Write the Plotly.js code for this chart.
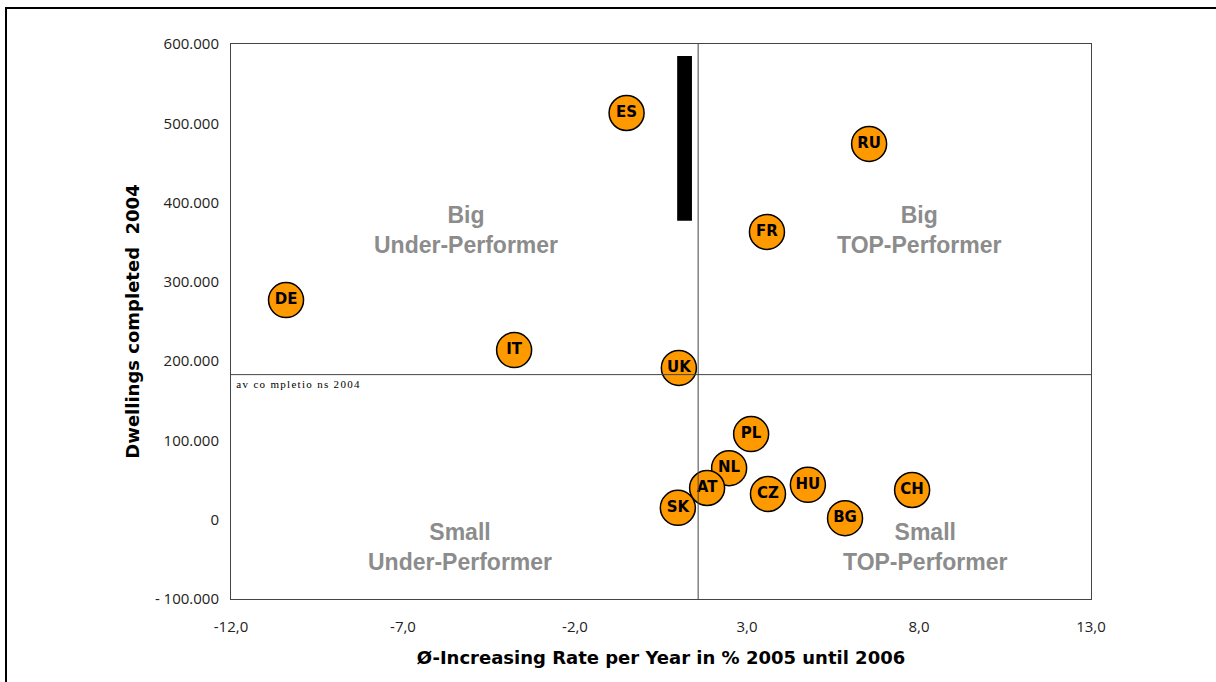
<!DOCTYPE html>
<html>
<head>
<meta charset="utf-8">
<script src="https://cdn.plot.ly/plotly-3.0.1.min.js"></script>
<style>
html,body{margin:0;padding:0;background:#fff;}
#frame{position:absolute;left:5px;top:7px;width:1211px;height:675px;border-left:2px solid #000;border-top:2px solid #000;box-sizing:border-box;}
#chart{position:absolute;left:0;top:0;width:1216px;height:682px;}
g.annotation[data-index="4"] text.annotation-text{letter-spacing:1.3px;}
</style>
</head>
<body>
<div id="frame"></div>
<div id="chart"></div>
<script>
// Data
const countries = ["ES","RU","FR","DE","IT","UK","PL","NL","AT","SK","CZ","HU","BG","CH"];
const growthRate = [-0.5, 6.55, 3.58, -10.4, -3.77, 1.02, 3.12, 2.48, 1.84, 0.99, 3.61, 4.77, 5.85, 7.8];
const completions = [513000, 474000, 363000, 277000, 214000, 191500, 108000, 65000, 40000, 15000, 32500, 44000, 2000, 37500];

const avgGrowth = 1.58;          // vertical divider
const avgCompletions = 183000;   // horizontal divider "av completions 2004"
const barX = [0.97, 1.40];
const barY = [377000, 585000];

const xTicks = [-12, -7, -2, 3, 8, 13];
const xTickLabels = ["-12,0", "-7,0", "-2,0", "3,0", "8,0", "13,0"];
const yTicks = [-100000, 0, 100000, 200000, 300000, 400000, 500000, 600000];
const yTickLabels = ["- 100.000", "0", "100.000", "200.000", "300.000", "400.000", "500.000", "600.000"];
const xRange = [-12, 13];
const yRange = [-100000, 600000];

const quadrantText = ["Big<br>Under-Performer", "Big<br>TOP-Performer", "Small<br>Under-Performer", "Small<br>TOP-Performer"];
const quadrantX = [-5.17, 8.0, -5.34, 8.2];
const quadrantY = [365000, 365000, -35000, -35000];

const trace = {
  type: "scatter",
  mode: "markers+text",
  x: growthRate,
  y: completions,
  text: countries,
  textposition: "middle center",
  textfont: {family: "DejaVu Sans", size: 15, color: "#000", weight: "bold"},
  marker: {size: 35, color: "#FF9900", line: {color: "#000", width: 1.5}},
  hoverinfo: "skip",
  cliponaxis: false
};

const annotations = quadrantText.map((t, i) => ({
  x: quadrantX[i], y: quadrantY[i], xref: "x", yref: "y", text: t, showarrow: false,
  font: {family: "Liberation Sans", size: 23, color: "#8c8c8c", weight: "bold"},
  align: "center", yanchor: "middle"
}));
annotations.push({
  x: xRange[0], y: avgCompletions, xref: "x", yref: "y", xanchor: "left", yanchor: "top",
  xshift: 17, yshift: -1,
  text: "av co mpletio ns 2004", showarrow: false,
  font: {family: "Liberation Serif", size: 11, color: "#000"}
});

const layout = {
  width: 1216, height: 682,
  margin: {l: 231, r: 125, t: 44, b: 83},
  paper_bgcolor: "rgba(0,0,0,0)",
  plot_bgcolor: "#fff",
  showlegend: false,
  xaxis: {
    range: xRange, tickvals: xTicks, ticktext: xTickLabels,
    showgrid: false, zeroline: false,
    showline: true, mirror: true, linecolor: "#444", linewidth: 1,
    ticks: "", ticklabelstandoff: 14,
    tickfont: {family: "Open Sans", size: 15, color: "#222"},
    title: {text: "Ø-Increasing Rate per Year in % 2005 until 2006", standoff: 16,
            font: {family: "DejaVu Sans", size: 18, color: "#000", weight: "bold"}}
  },
  yaxis: {
    range: yRange, tickvals: yTicks, ticktext: yTickLabels,
    showgrid: false, zeroline: false,
    showline: true, mirror: true, linecolor: "#444", linewidth: 1,
    ticks: "", ticklabelstandoff: 8,
    tickfont: {family: "Open Sans", size: 15, color: "#222"},
    title: {text: "Dwellings completed  2004", standoff: 10,
            font: {family: "DejaVu Sans", size: 18, color: "#000", weight: "bold"}}
  },
  shapes: [
    {type: "line", xref: "x", yref: "y", x0: avgGrowth, x1: avgGrowth, y0: yRange[0], y1: yRange[1],
     line: {color: "#444", width: 1}},
    {type: "line", xref: "x", yref: "y", x0: xRange[0], x1: xRange[1], y0: avgCompletions, y1: avgCompletions,
     line: {color: "#444", width: 1}},
    {type: "rect", xref: "x", yref: "y", x0: barX[0], x1: barX[1], y0: barY[0], y1: barY[1],
     fillcolor: "#000", line: {width: 0}}
  ],
  annotations: annotations
};

Plotly.newPlot("chart", [trace], layout, {staticPlot: true, displayModeBar: false});
</script>
</body>
</html>
